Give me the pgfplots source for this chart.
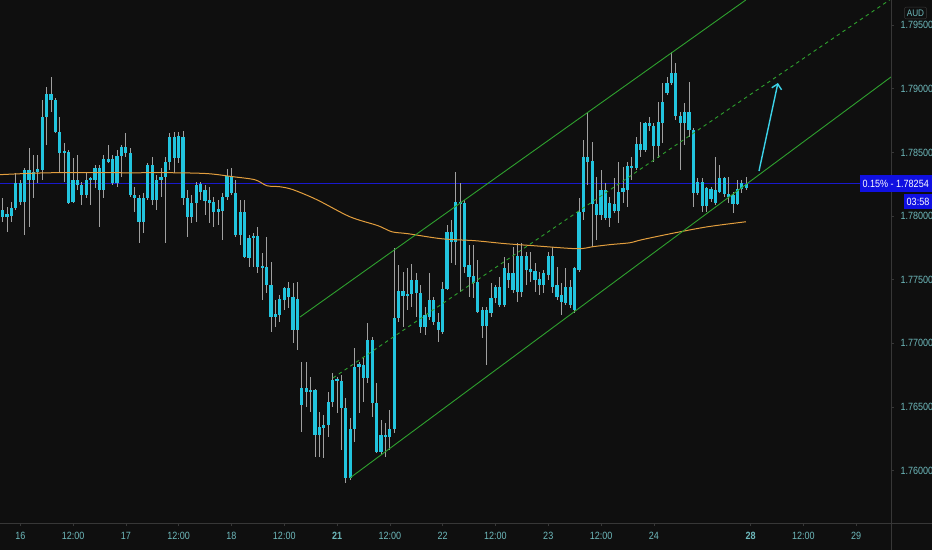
\documentclass[border=0pt]{standalone}
\usepackage{fontspec}
\setmainfont{Liberation Sans}[FakeStretch=0.86]
\usepackage{pgfplots}
\pgfplotsset{compat=1.18}
\usepackage{pgfplotstable}
\usetikzlibrary{arrows.meta}

\definecolor{bg}{RGB}{15,15,15}
\definecolor{candle}{RGB}{34,196,222}
\definecolor{arrowc}{RGB}{60,210,232}
\definecolor{wick}{RGB}{160,160,160}
\definecolor{ema}{RGB}{226,158,62}
\definecolor{chan}{RGB}{46,160,46}
\definecolor{pxline}{RGB}{25,25,205}
\definecolor{lbl}{RGB}{110,185,188}
\definecolor{sep}{RGB}{55,55,55}
\definecolor{pbox}{RGB}{16,16,225}

% hourly candles: body top/bottom, high, low
\pgfplotstableread{
x top bot high low
0 1.78049 1.77994 1.78144 1.77955
1 1.78018 1.77994 1.78073 1.77876
2 1.78065 1.78002 1.78112 1.77955
3 1.78261 1.78065 1.78340 1.78049
4 1.78261 1.78112 1.78285 1.78089
5 1.78364 1.78112 1.78379 1.77853
6 1.78364 1.78285 1.78537 1.77916
7 1.78348 1.78285 1.78482 1.78144
8 1.78371 1.78348 1.78482 1.78261
9 1.78780 1.78364 1.78914 1.78285
10 1.78962 1.78780 1.79016 1.78561
11 1.78962 1.78914 1.79095 1.78819
12 1.78914 1.78662 1.78930 1.78654
13 1.78662 1.78497 1.78780 1.78348
14 1.78513 1.78497 1.78576 1.78269
15 1.78505 1.78104 1.78521 1.78097
16 1.78285 1.78112 1.78458 1.78104
17 1.78285 1.78246 1.78482 1.78207
18 1.78246 1.78168 1.78269 1.78089
19 1.78285 1.78168 1.78340 1.78144
20 1.78301 1.78285 1.78309 1.78089
21 1.78379 1.78285 1.78403 1.78222
22 1.78379 1.78207 1.78403 1.77916
23 1.78450 1.78207 1.78482 1.78144
24 1.78450 1.78426 1.78561 1.78418
25 1.78450 1.78261 1.78482 1.78246
26 1.78474 1.78261 1.78521 1.78230
27 1.78545 1.78474 1.78561 1.78309
28 1.78545 1.78497 1.78654 1.78466
29 1.78497 1.78168 1.78537 1.78152
30 1.78168 1.78144 1.78230 1.78033
31 1.78144 1.77955 1.78168 1.77790
32 1.78144 1.77955 1.78183 1.77868
33 1.78403 1.78144 1.78418 1.78128
34 1.78403 1.78128 1.78466 1.78089
35 1.78285 1.78128 1.78325 1.78049
36 1.78309 1.78285 1.78379 1.78152
37 1.78426 1.78309 1.78466 1.77790
38 1.78623 1.78426 1.78654 1.78364
39 1.78623 1.78458 1.78662 1.78340
40 1.78631 1.78458 1.78662 1.78418
41 1.78623 1.78144 1.78670 1.78089
42 1.78144 1.77994 1.78207 1.77837
43 1.78104 1.77994 1.78168 1.77947
44 1.78246 1.78104 1.78269 1.77955
45 1.78254 1.78191 1.78269 1.78128
46 1.78207 1.78120 1.78246 1.78010
47 1.78128 1.78104 1.78230 1.77947
48 1.78112 1.78033 1.78152 1.77916
49 1.78057 1.78033 1.78128 1.77932
50 1.78152 1.78041 1.78183 1.77814
51 1.78317 1.78152 1.78371 1.78128
52 1.78317 1.78183 1.78379 1.78168
53 1.78183 1.77853 1.78285 1.77837
54 1.78033 1.77853 1.78128 1.77775
55 1.78033 1.77680 1.78128 1.77672
56 1.77829 1.77672 1.77853 1.77601
57 1.77845 1.77829 1.77868 1.77601
58 1.77845 1.77601 1.77916 1.77554
59 1.77609 1.77593 1.77711 1.77342
60 1.77601 1.77460 1.77837 1.77397
61 1.77460 1.77208 1.77640 1.77090
62 1.77232 1.77208 1.77342 1.77130
63 1.77350 1.77224 1.77382 1.77169
64 1.77436 1.77342 1.77444 1.77263
65 1.77436 1.77366 1.77483 1.77279
66 1.77366 1.77106 1.77475 1.77004
67 1.77350 1.77106 1.77483 1.76949
68 1.76650 1.76517 1.76854 1.76304
69 1.76650 1.76619 1.76854 1.76501
70 1.76635 1.76619 1.76737 1.76461
71 1.76635 1.76281 1.76642 1.76108
72 1.76344 1.76281 1.76461 1.76108
73 1.76360 1.76336 1.76438 1.76100
74 1.76540 1.76360 1.76619 1.76265
75 1.76713 1.76540 1.76768 1.76501
76 1.76721 1.76705 1.76737 1.76453
77 1.76705 1.76493 1.76753 1.76163
78 1.76493 1.75943 1.76572 1.75903
79 1.76328 1.75943 1.76414 1.75927
80 1.76815 1.76328 1.76965 1.76226
81 1.76839 1.76815 1.76854 1.76453
82 1.76831 1.76729 1.76886 1.76540
83 1.77028 1.76729 1.77161 1.76689
84 1.77028 1.76532 1.77051 1.76422
85 1.76532 1.76147 1.76689 1.76139
86 1.76281 1.76147 1.76399 1.76124
87 1.76281 1.76265 1.76375 1.76108
88 1.76328 1.76265 1.76477 1.76163
89 1.77200 1.76328 1.77751 1.76296
90 1.77413 1.77200 1.77617 1.77169
91 1.77413 1.77374 1.77562 1.77130
92 1.77390 1.77374 1.77593 1.77263
93 1.77499 1.77390 1.77625 1.77287
94 1.77499 1.77397 1.77554 1.77208
95 1.77397 1.77130 1.77460 1.77082
96 1.77224 1.77130 1.77287 1.77067
97 1.77342 1.77208 1.77554 1.77185
98 1.77342 1.77169 1.77366 1.77146
99 1.77169 1.77106 1.77239 1.77012
100 1.77428 1.77090 1.77483 1.77075
101 1.77876 1.77428 1.77932 1.77421
102 1.77876 1.77798 1.77971 1.77632
103 1.78112 1.77798 1.78348 1.77617
104 1.78112 1.78097 1.78261 1.77405
105 1.78104 1.77601 1.78128 1.77554
106 1.77617 1.77523 1.77775 1.77366
107 1.77531 1.77475 1.77775 1.77358
108 1.77483 1.77247 1.77656 1.77239
109 1.77263 1.77138 1.77287 1.77043
110 1.77263 1.77138 1.77287 1.76831
111 1.77358 1.77239 1.77475 1.77208
112 1.77444 1.77358 1.77460 1.77318
113 1.77444 1.77303 1.77523 1.77287
114 1.77593 1.77303 1.77680 1.77287
115 1.77554 1.77499 1.77632 1.77436
116 1.77554 1.77421 1.77759 1.77397
117 1.77688 1.77405 1.77790 1.77326
118 1.77688 1.77405 1.77790 1.77366
119 1.77688 1.77578 1.77719 1.77460
120 1.77585 1.77562 1.77719 1.77483
121 1.77570 1.77499 1.77632 1.77405
122 1.77507 1.77460 1.77562 1.77382
123 1.77554 1.77460 1.77578 1.77397
124 1.77688 1.77539 1.77719 1.77499
125 1.77688 1.77444 1.77759 1.77397
126 1.77460 1.77366 1.77601 1.77342
127 1.77382 1.77326 1.77475 1.77224
128 1.77444 1.77318 1.77593 1.77303
129 1.77444 1.77303 1.77499 1.77279
130 1.77593 1.77263 1.77601 1.77239
131 1.78033 1.77578 1.78144 1.77562
132 1.78466 1.78033 1.78600 1.77971
133 1.78466 1.78426 1.78819 1.78246
134 1.78434 1.78097 1.78584 1.77759
135 1.78097 1.78010 1.78309 1.77814
136 1.78207 1.78010 1.78364 1.77971
137 1.78207 1.77986 1.78261 1.77971
138 1.78104 1.77986 1.78152 1.77916
139 1.78097 1.78041 1.78301 1.78025
140 1.78191 1.78041 1.78426 1.77947
141 1.78222 1.78191 1.78387 1.78104
142 1.78395 1.78207 1.78426 1.78073
143 1.78395 1.78379 1.78466 1.78285
144 1.78569 1.78379 1.78623 1.78364
145 1.78569 1.78521 1.78741 1.78466
146 1.78733 1.78521 1.78741 1.78505
147 1.78733 1.78710 1.78780 1.78670
148 1.78710 1.78553 1.78733 1.78426
149 1.78741 1.78553 1.78898 1.78458
150 1.78898 1.78733 1.79047 1.78576
151 1.79047 1.78969 1.79095 1.78954
152 1.79126 1.79047 1.79291 1.79032
153 1.79126 1.78788 1.79204 1.78757
154 1.78788 1.78733 1.78819 1.78364
155 1.78819 1.78733 1.78890 1.78561
156 1.78819 1.78678 1.79055 1.78623
157 1.78678 1.78183 1.78694 1.78073
158 1.78269 1.78183 1.78301 1.78168
159 1.78269 1.78081 1.78301 1.78033
160 1.78222 1.78081 1.78230 1.78033
161 1.78214 1.78136 1.78230 1.78112
162 1.78207 1.78104 1.78466 1.78089
163 1.78301 1.78191 1.78403 1.78183
164 1.78301 1.78176 1.78309 1.78152
165 1.78176 1.78152 1.78309 1.78104
166 1.78168 1.78097 1.78191 1.78025
167 1.78214 1.78097 1.78285 1.78089
168 1.78261 1.78214 1.78285 1.78183
169 1.78254 1.78222 1.78309 1.78207
}\candles

% moving average
\pgfplotstableread{
x ema
-0.61 1.78325
10.75 1.78340
28.93 1.78340
39.16 1.78340
46.66 1.78333
52.34 1.78309
57.34 1.78285
60.07 1.78238
63.02 1.78230
65.98 1.78207
71.43 1.78128
78.93 1.77994
85.30 1.77924
88.48 1.77876
92.11 1.77861
99.84 1.77821
107.34 1.77806
114.16 1.77783
120.52 1.77767
130.52 1.77743
134.16 1.77759
138.02 1.77775
142.57 1.77790
145.30 1.77814
152.80 1.77868
160.30 1.77916
168.93 1.77955
}\emaline

\begin{document}
\begin{tikzpicture}
\fill[bg] (0pt,-27pt) rectangle (932pt,523pt);
\begin{axis}[
    scale only axis,
    width=891pt,
    height=523pt,
    xmin=-0.61, xmax=201.9,
    ymin=1.75587, ymax=1.79698,
    axis x line*=bottom,
    axis y line*=right,
    axis line style={-, draw=sep, line width=0.7pt},
    tick align=outside,
    major tick length=3pt,
    tick style={draw=sep, line width=0.6pt},
    xtick={4,16,28,40,52,64,76,88,100,112,124,136,148,170,182,194},
    xticklabels={16,12:00,17,12:00,18,12:00,\textbf{21},12:00,22,12:00,23,12:00,24,\textbf{28},12:00,29},
    ytick={1.76,1.765,1.77,1.775,1.78,1.785,1.79,1.795},
    scaled y ticks=false,
    /pgf/number format/assume math mode=true,
    y tick label style={/pgf/number format/fixed, /pgf/number format/fixed zerofill, /pgf/number format/precision=5, xshift=3pt},
    x tick label style={yshift=-2.5pt},
    tick label style={font=\fontsize{10.5}{11}\selectfont, text=lbl},
]
% last price line
\addplot[pxline, line width=0.8pt] coordinates {(-0.61,1.78254) (201.9,1.78254)};
% wicks
\addplot[draw=none, mark=none, error bars/.cd, y dir=plus, y explicit, error mark=none,
    error bar style={draw=wick, line width=1.1pt}]
    table[x=x, y=low, y error plus expr=\thisrow{high}-\thisrow{low}] {\candles};
% bodies
\addplot[draw=none, mark=none, error bars/.cd, y dir=plus, y explicit, error mark=none,
    error bar style={draw=candle, line width=3.2pt}]
    table[x=x, y=bot, y error plus expr=\thisrow{top}-\thisrow{bot}] {\candles};
% moving average
\addplot[ema, line width=1pt, smooth] table[x=x, y=ema] {\emaline};
% channel
\addplot[chan, line width=0.9pt] coordinates {(67.57,1.77206) (168.9,1.79698)};
\addplot[chan, line width=0.9pt] coordinates {(78.93,1.75941) (201.9,1.79093)};
\addplot[chan, line width=0.9pt, dash pattern=on 3.5pt off 3.5pt] coordinates {(75.07,1.76727) (201.9,1.79706)};
% projection arrow
\addplot[arrowc, line width=1.4pt, -{Straight Barb[length=5pt,width=10pt]}] coordinates {(171.9,1.78354) (176.2,1.79046)};
\coordinate (pl) at (axis cs:201.9,1.78254);
\end{axis}
\draw[sep, line width=0.7pt] (891pt,-27pt) -- (891pt,523pt);
\draw[sep, line width=0.7pt] (0pt,0pt) -- (932pt,0pt);
\node[fill=pbox, text=white, anchor=east, minimum height=17pt, inner xsep=3pt, inner ysep=1pt,
    font=\fontsize{10.5}{11}\selectfont] at (932pt,0 |- pl) {0.15\% - 1.78254};
\node[fill=pbox, text=white, anchor=north east, minimum height=15pt, inner xsep=2.5pt, inner ysep=1pt,
    font=\fontsize{10.5}{11}\selectfont] at ([yshift=-10pt]932pt,0 |- pl) {03:58};
\node[draw=sep, fill=bg, rounded corners=2pt, text=lbl, inner sep=2.5pt,
    font=\fontsize{9.5}{10}\selectfont] at (915.5pt,510pt) {AUD};
\pgfresetboundingbox
\path[use as bounding box] (0pt,-27pt) rectangle (932pt,523pt);
\end{tikzpicture}
\end{document}
